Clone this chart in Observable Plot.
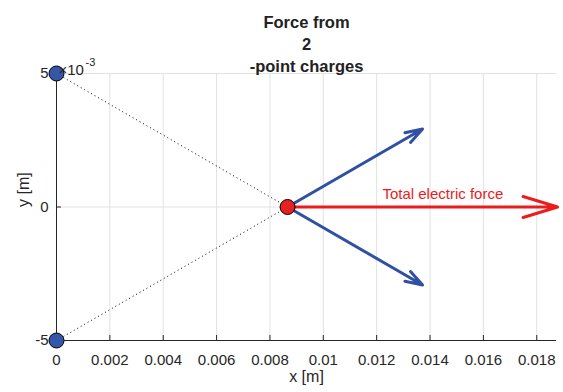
<!DOCTYPE html>
<html><head><meta charset="utf-8">
<script src="https://cdn.jsdelivr.net/npm/d3@7"></script>
<script src="https://cdn.jsdelivr.net/npm/@observablehq/plot@0.6"></script>
<style>
body{margin:0;background:#fff}
svg{font-family:"Liberation Sans",Arial,Helvetica,sans-serif}
</style>
</head><body><div id="chart"></div>
<script>
// point charges (sources)
const sourceX = [0, 0];
const sourceY = [0.005, -0.005];
// test charge
const testX = [0.00866];
const testY = [0];
// individual force vectors (scaled)
const forceDX = [0.00506, 0.00506];
const forceDY = [0.00292, -0.00292];
// total force vector (scaled)
const totalDX = [0.01012];
const totalDY = [0];
// ticks
const xTicks = [0, 0.002, 0.004, 0.006, 0.008, 0.01, 0.012, 0.014, 0.016, 0.018];
const yTicks = [-0.005, 0, 0.005];
const xDomain = [0, 0.01874];
const yDomain = [-0.005, 0.005];
// text
const titleLines = ["Force from", "2", "-point charges"];
const forceLabel = ["Total electric force"];
const forceLabelPos = {x: 0.01448, y: 0.00048};
const xLabel = "x [m]";
const yLabel = "y [m]";

const idx = sourceX.map((_, i) => i);
const font = '"Liberation Sans",Arial,Helvetica,sans-serif';
const titleDy = [-57, -35, -13];

const chart = Plot.plot({
  width: 563,
  height: 392,
  marginLeft: 56,
  marginRight: 7,
  marginTop: 73,
  marginBottom: 52,
  style: {background: "#fff", fontFamily: font, fontSize: "15px", color: "#262626"},
  x: {domain: xDomain},
  y: {domain: yDomain},
  marks: [
    Plot.ruleX(xTicks.slice(1), {stroke: "#e2e2e2", strokeWidth: 1}),
    Plot.ruleY(yTicks.slice(1), {stroke: "#e2e2e2", strokeWidth: 1}),
    Plot.axisX({ticks: xTicks, tickFormat: d => String(+d.toFixed(4)), tickSize: -5, tickPadding: 19, label: null, fontSize: 15, stroke: "#262626", fill: "#262626"}),
    Plot.axisY({ticks: yTicks, tickFormat: d => String(Math.round(d * 1000)), tickSize: -5, tickPadding: 13, label: null, fontSize: 15, stroke: "#262626", fill: "#262626"}),
    Plot.ruleX([xDomain[0]], {stroke: "#262626", strokeWidth: 1}),
    Plot.ruleY([yDomain[0]], {stroke: "#262626", strokeWidth: 1}),
    Plot.link(idx, {x1: i => sourceX[i], y1: i => sourceY[i], x2: () => testX[0], y2: () => testY[0], stroke: "#000", strokeWidth: 1, strokeDasharray: "1,3"}),
    Plot.arrow(idx, {x1: () => testX[0], y1: () => testY[0], x2: i => testX[0] + forceDX[i], y2: i => testY[0] + forceDY[i], stroke: "#3050a2", strokeWidth: 3, headLength: 9, headAngle: 36}),
    Plot.arrow([0], {x1: () => testX[0], y1: () => testY[0], x2: i => testX[0] + totalDX[i], y2: i => testY[0] + totalDY[i], stroke: "#ea1c1c", strokeWidth: 3, headLength: 18, headAngle: 34}),
    Plot.text(forceLabel, {x: () => forceLabelPos.x, y: () => forceLabelPos.y, text: d => d, fill: "#ea1c1c", fontSize: 15, textAnchor: "middle"}),
    Plot.dot(idx, {x: i => sourceX[i], y: i => sourceY[i], r: 7.5, fill: "#3656a8", stroke: "#000", strokeWidth: 1}),
    Plot.dot(testX.map((_, i) => i), {x: i => testX[i], y: i => testY[i], r: 7.5, fill: "#e82222", stroke: "#000", strokeWidth: 1}),
    ...titleLines.map((t, i) => Plot.text([t], {text: d => d, frameAnchor: "top", dy: titleDy[i], fontSize: 16.5, fontWeight: "bold", fill: "#222"})),
    Plot.text([xLabel], {text: d => d, frameAnchor: "bottom", dy: 41, fontSize: 16, fill: "#262626"}),
    Plot.text([yLabel], {text: d => d, frameAnchor: "left", rotate: -90, dx: -33, fontSize: 16, fill: "#262626"}),
    Plot.text(["×10"], {text: d => d, frameAnchor: "top-left", textAnchor: "start", dx: 2, dy: -9, fontSize: 15, fill: "#262626"}),
    Plot.text(["-3"], {text: d => d, frameAnchor: "top-left", textAnchor: "start", dx: 29, dy: -15, fontSize: 11, fill: "#262626"})
  ]
});
document.getElementById("chart").appendChild(chart);
</script>
</body></html>
